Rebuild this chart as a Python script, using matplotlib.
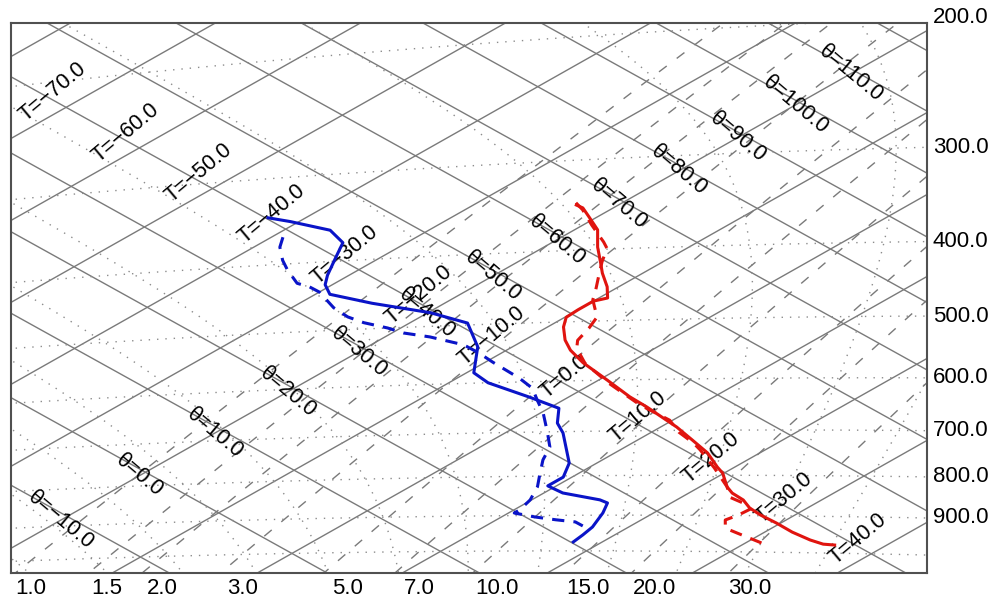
import numpy as np
import matplotlib
matplotlib.use("Agg")
import matplotlib.pyplot as plt

plt.rcParams['font.family'] = ['Liberation Sans', 'DejaVu Sans']

# ---------------- sounding data (pressure in hPa, temperature in deg C)
obs_temp_p = [346.5, 350, 361, 376, 397, 417, 431, 450, 466, 470, 482, 493, 508, 529, 546, 568,
              600, 632, 652, 670, 693, 721, 749, 781, 795, 828, 843, 860, 880, 898, 919, 943,
              964, 975, 977]
obs_temp_t = [-22.9, -22.1, -20.5, -18.4, -16.3, -14.2, -12.8, -10.8, -9.4, -10.0, -10.0, -9.9,
              -8.9, -7.2, -5.6, -3.2, 0.6, 4.2, 6.6, 8.6, 11.1, 13.8, 16.4, 18.8, 19.9, 21.9,
              23.0, 24.6, 26.0, 27.6, 29.7, 31.9, 34.1, 35.5, 36.4]

mod_temp_p = [344, 352, 370, 391, 399, 416, 436, 454, 468, 494, 511, 530, 543, 569, 605, 648,
              679, 704, 727, 742, 783, 828, 853, 868, 883, 899, 912, 934, 947, 974]
mod_temp_t = [-23.2, -21.9, -19.4, -16.5, -15.5, -14.2, -12.6, -11.2, -10.2, -7.8, -7.0, -6.3,
              -5.4, -3.0, 1.0, 5.9, 9.8, 11.9, 14.2, 15.5, 18.7, 21.9, 23.3, 25.0, 26.2, 26.1,
              25.8, 26.8, 28.2, 31.1]

obs_dewp_p = [342, 348, 361, 377, 395, 418, 431, 445, 461, 479, 497, 536, 581, 600, 629, 652,
              682, 703, 770, 803, 824, 842, 860, 868, 894, 932, 954, 974]
obs_dewp_t = [-42.6, -40.6, -36.8, -34.4, -33.1, -31.5, -30.5, -29.0, -25.0, -19.8, -16.0, -12.4,
              -9.5, -7.3, -2.7, 0.7, 2.4, 4.0, 8.1, 9.4, 9.4, 11.3, 14.7, 15.6, 16.5, 17.5,
              17.8, 18.0]

mod_dewp_p = [366, 378, 395, 408, 427, 433, 441, 465, 480, 490, 500, 509, 517, 532, 547, 563,
              593, 612, 635, 661, 702, 733, 762, 797, 826, 859, 885, 893, 904, 912, 918, 929]
mod_dewp_t = [-39.2, -38.2, -36.4, -34.9, -32.6, -31.3, -30.0, -27.1, -25.0, -23.2, -20.9, -19.2,
              -16.9, -13.6, -11.5, -9.5, -5.7, -3.6, -1.8, 0.2, 2.9, 4.8, 5.9, 7.5, 8.8, 9.9,
              10.4, 10.4, 12.3, 14.1, 15.7, 16.7]

# ---------------- diagram background values
isotherms = np.arange(-80, 50, 10)              # deg C
dry_adiabats = np.arange(-20, 130, 10)          # potential temperature, deg C
isobars = np.arange(200, 1001, 100)             # hPa
pressure_labels = np.arange(200, 901, 100)
mixing_ratios = [1.0, 1.5, 2.0, 3.0, 5.0, 7.0, 10.0, 15.0, 20.0, 30.0]   # g/kg
moist_adiabats_k = np.arange(250, 311, 5)       # wet-bulb potential temperature, K
temp_label_values = np.arange(-70, 50, 10)
theta_label_values = np.arange(-10, 120, 10)

# ---------------- tephigram frame: screen position is linear in T and ln(theta)
KAPPA = 0.286
AX_T, AX_PHI, X0 = 7.32, 2097.0, -11472.3
AY_T, AY_PHI, Y0 = 4.059, -1185.0, 7201.3
XMIN, XMAX, YTOP, YBOT = 11.0, 926.7, 23.0, 572.7


def xy_from_t_theta(t_c, th_k):
    phi = np.log(th_k)
    return X0 + AX_T * t_c + AX_PHI * phi, Y0 + AY_T * t_c + AY_PHI * phi


def xy(t_c, p):
    t_c = np.asarray(t_c, float)
    p = np.asarray(p, float)
    return xy_from_t_theta(t_c, (t_c + 273.15) * (1000.0 / p) ** KAPPA)


def esat(t_c):
    return 6.112 * np.exp(17.67 * t_c / (t_c + 243.5))


def t_mixing(w, p):
    e = w * p / (622.0 + w)
    a = np.log(e / 6.112)
    return 243.5 * a / (17.67 - a)


def moist_adiabat(t0):
    """Pseudo-adiabat through (1000 hPa, t0 deg C), integrated with RK4."""
    Rd, cp, Lv, eps = 287.04, 1005.7, 2.501e6, 0.622

    def f(p, T):
        es = esat(T - 273.15)
        rs = eps * es / (p - es)
        return (Rd * T + Lv * rs) / (cp + Lv * Lv * rs * eps / (Rd * T * T)) / p

    def integrate(p_end):
        n = int(abs(p_end - 1000.0) / 2.0) + 1
        ps = np.linspace(1000.0, p_end, n)
        Ts = [t0 + 273.15]
        for i in range(1, n):
            h = ps[i] - ps[i - 1]
            p_, T_ = ps[i - 1], Ts[-1]
            k1 = f(p_, T_)
            k2 = f(p_ + h / 2, T_ + h * k1 / 2)
            k3 = f(p_ + h / 2, T_ + h * k2 / 2)
            k4 = f(p_ + h, T_ + h * k3)
            Ts.append(T_ + h * (k1 + 2 * k2 + 2 * k3 + k4) / 6)
        return ps, np.array(Ts) - 273.15
    pu, tu = integrate(150.0)
    pd, td = integrate(1100.0)
    return np.concatenate([pu[::-1], pd[1:]]), np.concatenate([tu[::-1], td[1:]])


fig = plt.figure(figsize=(9.95, 6.02), dpi=100)
ax = fig.add_axes([XMIN / 995, 1 - YBOT / 602, (XMAX - XMIN) / 995, (YBOT - YTOP) / 602])
ax.set_xlim(XMIN, XMAX)
ax.set_ylim(YBOT, YTOP)
ax.set_xticks([])
ax.set_yticks([])
for s in ax.spines.values():
    s.set_color('#505050')
    s.set_linewidth(1.5)
    s.set_zorder(6)

grid_kw = dict(color='#7a7a7a', lw=1.0, zorder=2)
dot_kw = dict(color='#8c8c8c', lw=1.0, ls=(0, (1, 5)), zorder=2)

pp = np.linspace(100, 1100, 200)
for t in isotherms:
    x, y = xy(np.full_like(pp, t, dtype=float), pp)
    ax.plot(x, y, **grid_kw)
for th in dry_adiabats:
    tk = (th + 273.15) * (pp / 1000.0) ** KAPPA
    x, y = xy(tk - 273.15, pp)
    ax.plot(x, y, **grid_kw)

tt = np.linspace(-110, 60, 300)
for p in isobars:
    x, y = xy(tt, np.full_like(tt, p, dtype=float))
    ax.plot(x, y, **dot_kw)
for tw in moist_adiabats_k:
    pa, ta = moist_adiabat(float(tw) - 273.15)
    x, y = xy(ta, pa)
    ax.plot(x, y, **dot_kw)

pm = np.linspace(150, 1100, 200)
for w in mixing_ratios:
    x, y = xy(t_mixing(w, pm), pm)
    ax.plot(x, y, color='#7a7a7a', lw=1.0, ls=(0, (7, 9)), zorder=2)
    bx, _ = xy(t_mixing(w, 1000.0), 1000.0)
    ax.text(bx, YBOT + 16, f"{w:.1f}", ha='center', va='center', fontsize=16, clip_on=False)

# pressure labels where each isobar meets the right edge
t_grid = np.linspace(-60, 50, 4000)
for p in pressure_labels:
    xg, yg = xy(t_grid, np.full_like(t_grid, p, dtype=float))
    i = np.argmin(abs(xg - XMAX))
    ax.text(XMAX + 6, yg[i], f"{p:.1f}", ha='left', va='center', fontsize=16, clip_on=False)

# isotherm labels run along one dry adiabat, adiabat labels along one isotherm
for t in temp_label_values:
    x, y = xy_from_t_theta(t - 2.8, 41 + 273.15)
    ax.text(x, y, f"T={t:.1f}".replace('-', '\u2212'), rotation=40, ha='center', va='center',
            rotation_mode='anchor', fontsize=15.5, zorder=4)
for th in theta_label_values:
    x, y = xy_from_t_theta(-20.0, th - 0.8 + 273.15)
    ax.text(x, y, f"\u03b8={th:.1f}".replace('-', '\u2212'), rotation=-40, ha='center', va='center',
            rotation_mode='anchor', fontsize=15.5, zorder=4)

# soundings
red, blue = '#e0140f', '#0a14c8'
for p_, t_, col, ls in ((obs_temp_p, obs_temp_t, red, '-'),
                        (mod_temp_p, mod_temp_t, red, (0, (4, 3))),
                        (obs_dewp_p, obs_dewp_t, blue, '-'),
                        (mod_dewp_p, mod_dewp_t, blue, (0, (4, 3)))):
    x, y = xy(t_, p_)
    ax.plot(x, y, color=col, lw=2.2, ls=ls, zorder=5, solid_joinstyle='round')

fig.savefig('out.png', dpi=100)
